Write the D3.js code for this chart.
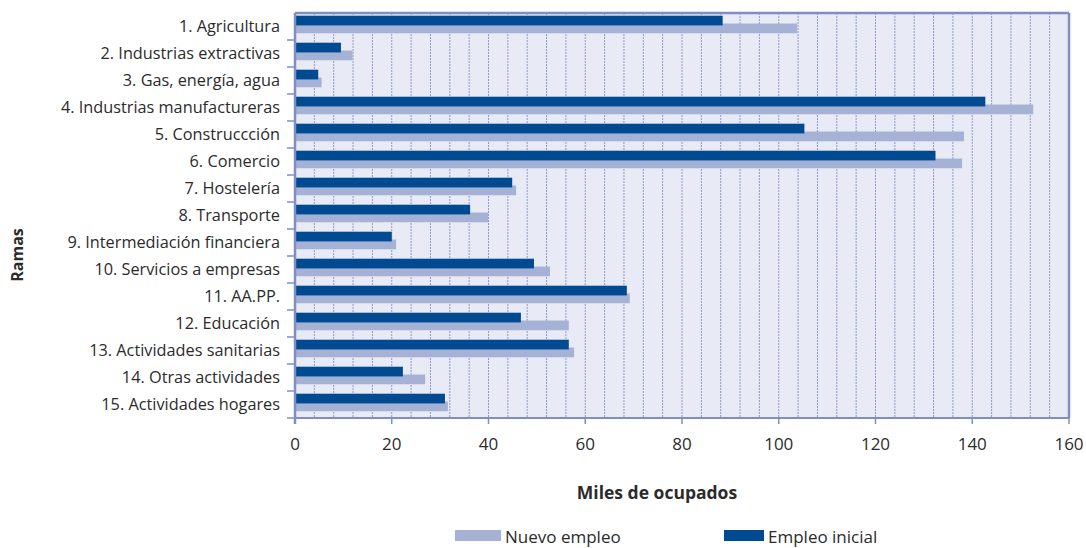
<!DOCTYPE html>
<html>
<head>
<meta charset="utf-8">
<script src="https://cdn.jsdelivr.net/npm/d3@7"></script>
<style>
  body { margin: 0; background: #fff; }
  text { font-family: "Open Sans", "Noto Sans", sans-serif; fill: #2b2b2b; }
</style>
</head>
<body>
<div id="chart"></div>
<script>
const ramas = [
  '1. Agricultura', '2. Industrias extractivas', '3. Gas, energía, agua',
  '4. Industrias manufactureras', '5. Construccción', '6. Comercio',
  '7. Hostelería', '8. Transporte', '9. Intermediación financiera',
  '10. Servicios a empresas', '11. AA.PP.', '12. Educación',
  '13. Actividades sanitarias', '14. Otras actividades', '15. Actividades hogares'
];
const empleoInicial = [88.4, 9.5, 4.8, 142.7, 105.3, 132.4, 44.9, 36.2, 20.0, 49.4, 68.6, 46.7, 56.6, 22.3, 31.0];
const nuevoEmpleo = [103.8, 11.9, 5.5, 152.6, 138.3, 137.9, 45.7, 39.9, 20.9, 52.7, 69.2, 56.6, 57.7, 26.9, 31.6];
const xTicks = [0, 20, 40, 60, 80, 100, 120, 140, 160];

const W = 1086, H = 548;
const m = {top: 13, right: 17, bottom: 130, left: 295};
const iw = W - m.left - m.right, ih = H - m.top - m.bottom;

const svg = d3.select('#chart').append('svg').attr('width', W).attr('height', H);
const g = svg.append('g').attr('transform', `translate(${m.left},${m.top})`);

const x = d3.scaleLinear().domain([0, 160]).range([0, iw]);
const y = d3.scaleBand().domain(ramas).range([0, ih]);
const bw = y.bandwidth();

// fondo
g.append('rect').attr('width', iw).attr('height', ih).attr('fill', '#e8eaf5');

// rejilla punteada cada 4
g.selectAll('.grid').data(d3.range(4, 160, 4)).enter().append('line')
  .attr('x1', d => x(d)).attr('x2', d => x(d))
  .attr('y1', 0).attr('y2', ih)
  .attr('stroke', '#8d9bca').attr('stroke-width', 1)
  .attr('stroke-dasharray', '2,1');

const rows = ramas.map((r, i) => ({r, ini: empleoInicial[i], nue: nuevoEmpleo[i]}));

g.selectAll('.nuevo').data(rows).enter().append('rect')
  .attr('x', 0).attr('y', d => y(d.r) + bw * 0.39)
  .attr('width', d => x(d.nue)).attr('height', bw * 0.36)
  .attr('fill', '#a5b2d6');

g.selectAll('.inicial').data(rows).enter().append('rect')
  .attr('x', 0).attr('y', d => y(d.r) + bw * 0.1)
  .attr('width', d => x(d.ini)).attr('height', bw * 0.36)
  .attr('fill', '#004a91');

// marco
const axisCol = '#7f8fc3';
g.append('line').attr('x1', 0).attr('x2', iw).attr('y1', 0).attr('y2', 0)
  .attr('stroke', axisCol).attr('stroke-width', 2.5);
g.append('line').attr('x1', iw).attr('x2', iw).attr('y1', 0).attr('y2', ih)
  .attr('stroke', axisCol).attr('stroke-width', 2.5);
g.append('line').attr('x1', 0).attr('x2', 0).attr('y1', 0).attr('y2', ih + 6)
  .attr('stroke', axisCol).attr('stroke-width', 2.5);
g.append('line').attr('x1', 0).attr('x2', iw).attr('y1', ih).attr('y2', ih)
  .attr('stroke', axisCol).attr('stroke-width', 2);

// marcas eje y (entre categorias)
g.selectAll('.ytick').data(d3.range(1, ramas.length + 1)).enter().append('line')
  .attr('x1', -8).attr('x2', 0)
  .attr('y1', d => d * bw).attr('y2', d => d * bw)
  .attr('stroke', axisCol).attr('stroke-width', 1.5);

g.selectAll('.ylab').data(ramas).enter().append('text')
  .attr('x', -15).attr('y', d => y(d) + bw / 2)
  .attr('dy', '0.35em').attr('text-anchor', 'end')
  .style('font-size', '16.3px').text(d => d);

// eje x
g.selectAll('.xtick').data(xTicks).enter().append('line')
  .attr('x1', d => x(d)).attr('x2', d => x(d))
  .attr('y1', ih).attr('y2', ih + 6)
  .attr('stroke', axisCol).attr('stroke-width', 1.5);

g.selectAll('.xlab').data(xTicks).enter().append('text')
  .attr('x', d => x(d)).attr('y', ih + 32)
  .attr('text-anchor', 'middle')
  .style('font-size', '17px').text(d => d);

svg.append('text').attr('x', 657).attr('y', 499)
  .attr('text-anchor', 'middle').style('font-size', '17.5px').style('font-weight', 'bold')
  .text('Miles de ocupados');

svg.append('text').attr('transform', 'translate(23,255) rotate(-90)')
  .attr('text-anchor', 'middle').style('font-size', '16px').style('font-weight', 'bold')
  .text('Ramas');

// leyenda
const legend = [
  {label: 'Nuevo empleo', color: '#a5b2d6', x: 455, w: 46},
  {label: 'Empleo inicial', color: '#004a91', x: 724, w: 40}
];
const lg = svg.selectAll('.leg').data(legend).enter().append('g');
lg.append('rect').attr('x', d => d.x).attr('y', 530).attr('width', d => d.w).attr('height', 11)
  .attr('fill', d => d.color);
lg.append('text').attr('x', d => d.x + d.w + 4).attr('y', 543)
  .style('font-size', '17px').text(d => d.label);
</script>
</body>
</html>
